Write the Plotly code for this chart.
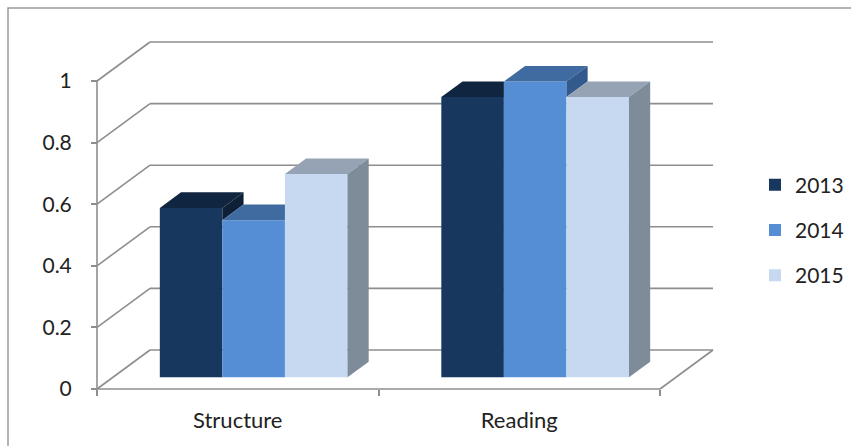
import plotly.graph_objects as go

# ---- data -------------------------------------------------------------
categories = ["Structure", "Reading"]
years = ["2013", "2014", "2015"]
values_2013 = [0.55, 0.91]
values_2014 = [0.51, 0.96]
values_2015 = [0.66, 0.91]
y_ticks = [0, 0.2, 0.4, 0.6, 0.8, 1]
y_tick_labels = ["0", "0.2", "0.4", "0.6", "0.8", "1"]

series = [values_2013, values_2014, values_2015]

# ---- styling ----------------------------------------------------------
front_colors = ["#17375E", "#558ED5", "#C6D9F1"]
top_colors = ["#10253F", "#3F6BA0", "#95A3B4"]
side_colors = ["#0D2036", "#325A8C", "#7E8B99"]
grid_color = "#8E8E8E"
text_color = "#222222"
FONT = "Lato"

W, H = 851, 446
# front plane geometry (pixels)
X0_PX, Y0_PX = 97, 389      # left end of the category axis, value 0
CAT_PX = 281.5              # width of one category
VAL_PX = 308                # pixels per 1.0 on the value axis
DEPTH_DX_PX, DEPTH_DY_PX = 53, 39   # oblique depth of the floor

DX = DEPTH_DX_PX / CAT_PX
DY = DEPTH_DY_PX / VAL_PX
x_range = [-0.5 - X0_PX / CAT_PX, -0.5 + (W - X0_PX) / CAT_PX]
y_range = [-(H - Y0_PX) / VAL_PX, Y0_PX / VAL_PX]

GAP = 1.5                   # gap between groups, in bar widths
BW = 1 / (len(years) + GAP)
F, B = 0.3, 0.7             # front / back depth of the bars

n_cat = len(categories)
x_left, x_right = -0.5, n_cat - 0.5

fig = go.Figure()

# front faces of the columns
for s, (name, vals) in enumerate(zip(years, series)):
    fig.add_trace(go.Bar(
        x=[c + F * DX + (s - 1) * BW for c in range(n_cat)],
        y=vals,
        base=F * DY,
        width=BW,
        name=name,
        legendgroup=name,
        marker=dict(color=front_colors[s], line=dict(width=0)),
        hoverinfo="skip",
    ))


def face(points, color):
    xs = [p[0] for p in points] + [points[0][0]]
    ys = [p[1] for p in points] + [points[0][1]]
    fig.add_trace(go.Scatter(
        x=xs, y=ys, mode="lines", fill="toself", fillcolor=color,
        line=dict(width=0, color=color), showlegend=False, hoverinfo="skip",
    ))


# top and side faces, clipped where the next column hides them
for c in range(n_cat):
    for s in range(len(series)):
        v = series[s][c]
        nxt = series[s + 1][c] if s + 1 < len(series) else None
        xl = c + (s - 1) * BW - BW / 2
        xr = xl + BW
        if nxt is not None and nxt > v:
            top = [(xl + F * DX, v + F * DY), (xr + F * DX, v + F * DY),
                   (xr + F * DX, v + B * DY), (xl + B * DX, v + B * DY)]
        else:
            top = [(xl + F * DX, v + F * DY), (xr + F * DX, v + F * DY),
                   (xr + B * DX, v + B * DY), (xl + B * DX, v + B * DY)]
        face(top, top_colors[s])
        h0 = 0 if nxt is None else nxt
        if h0 < v:
            side = [(xr + F * DX, h0 + F * DY), (xr + B * DX, h0 + B * DY),
                    (xr + B * DX, v + B * DY), (xr + F * DX, v + F * DY)]
            face(side, side_colors[s])

# walls and floor
shapes = []


def seg(x0, y0, x1, y1):
    shapes.append(dict(type="line", xref="x", yref="y", x0=x0, y0=y0,
                       x1=x1, y1=y1, layer="below",
                       line=dict(color=grid_color, width=1.6)))


for t in y_ticks:
    seg(x_left + DX, t + DY, x_right + DX, t + DY)   # back wall gridline
    seg(x_left, t, x_left + DX, t + DY)               # side wall gridline
seg(x_left, 0, x_left, y_ticks[-1])                   # value axis
seg(x_left, 0, x_right, 0)                            # floor front edge
seg(x_right, 0, x_right + DX, DY)                     # floor right edge

# outer chart border
shapes.append(dict(type="rect", xref="paper", yref="paper",
                   x0=8 / W, y0=-0.05, x1=1.05, y1=1 - 8 / H,
                   line=dict(color="#9A9A9A", width=1.5), layer="below"))

fig.update_layout(
    template="none",
    width=W, height=H,
    margin=dict(l=0, r=0, t=0, b=0, pad=0),
    paper_bgcolor="white", plot_bgcolor="white",
    barmode="overlay",
    shapes=shapes,
    font=dict(family=FONT, size=20, color=text_color),
    xaxis=dict(
        range=x_range, anchor="free", position=(H - Y0_PX) / H,
        showgrid=False, zeroline=False, showline=False, automargin=False,
        tickmode="array", tickvals=list(range(n_cat)), ticktext=categories,
        ticks="", ticklabelstandoff=16,
        tickfont=dict(family=FONT, size=22, color=text_color),
        minor=dict(tickmode="array",
                   tickvals=[c - 0.5 for c in range(n_cat + 1)],
                   ticks="outside", ticklen=6, tickwidth=1.5,
                   tickcolor=grid_color, showgrid=False),
    ),
    yaxis=dict(
        range=y_range, anchor="free", position=X0_PX / W,
        showgrid=False, zeroline=False, showline=False, automargin=False,
        tickmode="array", tickvals=y_ticks, ticktext=y_tick_labels,
        ticks="outside", ticklen=6, tickwidth=1.5, tickcolor=grid_color,
        ticklabelstandoff=15,
        tickfont=dict(family=FONT, size=21, color=text_color),
    ),
    showlegend=True,
    legend=dict(
        x=755 / W, y=1 - 230 / H, xanchor="left", yanchor="middle",
        font=dict(family=FONT, size=21, color=text_color),
        tracegroupgap=15, bgcolor="rgba(0,0,0,0)", borderwidth=0,
    ),
)

fig.write_html("out.html")
